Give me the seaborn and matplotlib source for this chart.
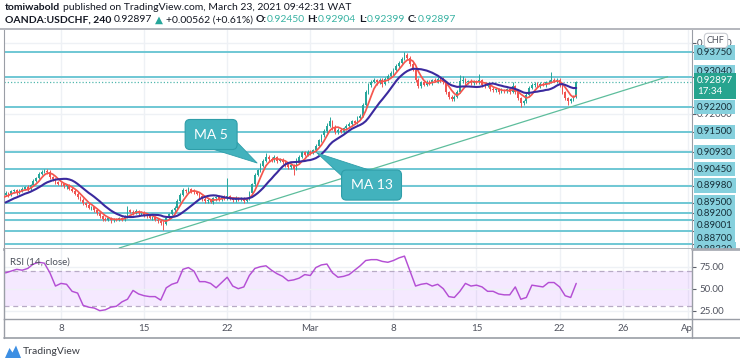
import numpy as np
import pandas as pd
import matplotlib
matplotlib.use("Agg")
import matplotlib.pyplot as plt
import matplotlib.transforms as mtransforms
from matplotlib.lines import Line2D
from matplotlib.patches import Rectangle, Polygon
import seaborn as sns

# ---------------- data (4h bars, bar 0 = Feb 8 00:00) ----------------
first_bar = -32
closes = [
    # warm-up bars (left of the visible window)
    0.8925, 0.8930, 0.8936, 0.8940, 0.8938, 0.8945, 0.8950, 0.8955, 0.8960, 0.8962, 0.8968, 0.8972,
    # -20 .. -1
    0.8978, 0.8972, 0.8982, 0.8985, 0.8978, 0.8984, 0.8990, 0.8994, 0.8988, 0.9000,
    0.9012, 0.9020, 0.9032, 0.9038, 0.9041, 0.9036, 0.9022, 0.9016, 0.9008, 0.9004,
    # 0 .. 69
    0.9002, 0.8996, 0.8999, 0.8990, 0.8984, 0.8975, 0.8966, 0.8958, 0.8950, 0.8944,
    0.8935, 0.8938, 0.8928, 0.8920, 0.8912, 0.8905, 0.8902, 0.8906, 0.8900, 0.8904,
    0.8902, 0.8906, 0.8903, 0.8910, 0.8928, 0.8925, 0.8922, 0.8926, 0.8920, 0.8923,
    0.8915, 0.8912, 0.8908, 0.8910, 0.8902, 0.8898, 0.8893, 0.8890, 0.8908, 0.8918,
    0.8928, 0.8935, 0.8955, 0.8972, 0.8985, 0.8982, 0.8988, 0.8984, 0.8980, 0.8975,
    0.8968, 0.8960, 0.8955, 0.8958, 0.8952, 0.8962, 0.8965, 0.8960, 0.8966, 0.8963,
    0.8968, 0.8962, 0.8958, 0.8964, 0.8960, 0.8962, 0.8955, 0.8960, 0.8978, 0.9002,
    # 70 .. 139
    0.9028, 0.9042, 0.9055, 0.9068, 0.9080, 0.9074, 0.9070, 0.9078, 0.9068, 0.9072,
    0.9064, 0.9058, 0.9050, 0.9056, 0.9046, 0.9062, 0.9080, 0.9092, 0.9086, 0.9094,
    0.9090, 0.9098, 0.9110, 0.9126, 0.9140, 0.9152, 0.9168, 0.9180, 0.9164, 0.9150,
    0.9156, 0.9150, 0.9160, 0.9166, 0.9172, 0.9180, 0.9176, 0.9188, 0.9196, 0.9226,
    0.9262, 0.9284, 0.9292, 0.9296, 0.9290, 0.9298, 0.9286, 0.9300, 0.9308, 0.9316,
    0.9326, 0.9336, 0.9346, 0.9356, 0.9368, 0.9360, 0.9342, 0.9326, 0.9298, 0.9280,
    0.9290, 0.9284, 0.9292, 0.9288, 0.9296, 0.9294, 0.9300, 0.9296, 0.9290, 0.9262,
    # 140 .. 186
    0.9248, 0.9242, 0.9250, 0.9262, 0.9294, 0.9298, 0.9290, 0.9294, 0.9288, 0.9292,
    0.9290, 0.9296, 0.9284, 0.9280, 0.9282, 0.9272, 0.9268, 0.9270, 0.9264, 0.9268,
    0.9265, 0.9270, 0.9264, 0.9280, 0.9262, 0.9246, 0.9232, 0.9236, 0.9254, 0.9274,
    0.9282, 0.9286, 0.9280, 0.9286, 0.9283, 0.9290, 0.9292, 0.9298, 0.9294, 0.9297,
    0.9282, 0.9262, 0.9246, 0.9238, 0.9242, 0.9250, 0.9290,
]
upper_wick_pips = [
    3, 3, 3, 3, 3, 3, 3, 3, 3, 3, 3, 3,
    4, 3, 5, 3, 4, 6, 3, 4, 5, 4,
    5, 3, 6, 4, 5, 4, 6, 3, 4, 3,
    4, 5, 3, 4, 3, 5, 4, 3, 4, 3,
    5, 3, 4, 3, 4, 3, 5, 3, 4, 3,
    3, 4, 3, 5, 14, 4, 3, 5, 3, 4,
    4, 3, 4, 3, 3, 4, 3, 4, 5, 4,
    4, 5, 6, 5, 6, 4, 5, 3, 4, 3,
    4, 3, 5, 4, 3, 5, 4, 6, 3, 5,
    52, 4, 3, 5, 3, 4, 3, 4, 6, 5,
    5, 4, 6, 5, 11, 4, 5, 6, 4, 5,
    4, 3, 5, 4, 3, 13, 6, 5, 4, 5,
    4, 5, 6, 5, 4, 5, 6, 12, 4, 5,
    4, 5, 4, 5, 6, 4, 5, 6, 5, 7,
    6, 5, 4, 6, 4, 5, 4, 6, 5, 5,
    5, 6, 5, 6, 8, 5, 4, 5, 4, 3,
    4, 5, 4, 5, 4, 5, 6, 4, 8, 5,
    4, 5, 4, 6, 18, 10, 5, 4, 5, 4,
    5, 18, 4, 5, 4, 5, 4, 5, 4, 5,
    4, 5, 4, 11, 4, 3, 4, 5, 6, 5,
    5, 4, 5, 4, 5, 4, 6, 20, 4, 5,
    4, 3, 4, 3, 4, 5, 3,
]
lower_wick_pips = [
    3, 3, 3, 3, 3, 3, 3, 3, 3, 3, 3, 3,
    4, 5, 3, 4, 5, 3, 4, 3, 5, 4,
    3, 4, 3, 4, 3, 5, 4, 6, 4, 5,
    5, 4, 6, 5, 4, 3, 5, 4, 6, 5,
    4, 6, 5, 4, 5, 6, 4, 5, 6, 4,
    5, 4, 6, 4, 3, 5, 6, 4, 5, 4,
    5, 4, 5, 6, 5, 6, 5, 17, 4, 3,
    4, 3, 4, 3, 4, 5, 4, 6, 5, 4,
    5, 4, 5, 6, 4, 5, 6, 4, 5, 4,
    5, 4, 6, 5, 4, 5, 6, 4, 3, 4,
    4, 3, 4, 5, 3, 5, 6, 4, 5, 4,
    5, 6, 4, 5, 18, 4, 3, 4, 5, 4,
    4, 3, 4, 3, 4, 3, 4, 5, 8, 6,
    5, 4, 5, 4, 3, 4, 5, 4, 4, 3,
    4, 5, 6, 5, 6, 5, 8, 4, 5, 4,
    4, 3, 4, 3, 4, 5, 6, 5, 6, 5,
    5, 4, 5, 4, 5, 4, 5, 4, 5, 6,
    6, 5, 4, 4, 3, 5, 6, 5, 6, 5,
    4, 5, 6, 5, 4, 6, 5, 4, 6, 5,
    5, 4, 6, 5, 6, 5, 12, 6, 4, 3,
    4, 5, 4, 5, 4, 5, 4, 5, 4, 5,
    5, 6, 5, 13, 6, 4, 3,
]
ma_fast, ma_slow = 5, 13

rsi_first_bar, rsi_step = -20, 2
rsi_values = [
    68, 70, 72, 71, 73, 78, 80, 79, 68, 53,
    56, 55, 47, 45, 31, 29, 28, 25, 26, 29,
    30, 35, 38, 48, 44, 42, 41, 41, 37, 51,
    55, 57, 72, 74, 70, 58, 58, 56, 51, 57,
    63, 53, 50, 52, 65, 73, 75, 76, 71, 67,
    64, 59, 60, 62, 66, 65, 74, 77, 78, 68,
    63, 64, 66, 71, 76, 82, 83, 83, 81, 80,
    82, 85, 87, 70, 53, 55, 56, 53, 55, 50,
    41, 40, 47, 56, 53, 54, 52, 47, 47, 44,
    43, 43, 52, 38, 40, 54, 53, 52, 57, 57,
    52, 42, 40, 56,
]
rsi_band = [30, 70]
rsi_ticks = [25, 50, 75]
rsi_tick_labels = ["25.00", "50.00", "75.00"]

level_prices = [0.9375, 0.9304, 0.9220, 0.9150, 0.9093, 0.9045, 0.8998,
                0.8950, 0.8920, 0.89001, 0.8870, 0.8833]
level_labels = ["0.93750", "0.93040", "0.92200", "0.91500", "0.90930", "0.90450",
                "0.89980", "0.89500", "0.89200", "0.89001", "0.88700", "0.88330"]
scale_prices = [0.9400, 0.9200]
scale_labels = ["0.94000", "0.92000"]
current_price = 0.92897
current_label = "0.92897"
countdown_label = "17:34"
currency_label = "CHF"

trend_bars = [21, 219]
trend_prices = [0.8822, 0.9306]

date_tick_bars = [0, 30, 60, 90, 120, 150, 180, 203, 226.5]
date_tick_labels = ["8", "15", "22", "Mar", "8", "15", "22", "26", "Apr"]
price_grid = [0.88, 0.89, 0.90, 0.91, 0.92, 0.93, 0.94]

callouts = [("MA 5", (54.2, 0.91427), (70.8, 0.90622)),
            ("MA 13", (112.1, 0.89999), (92.4, 0.90905))]

# ---------------- style ----------------
W, H = 740, 364
FONT = ["Lato", "DejaVu Sans"]
sns.set_style("white")
plt.rcParams["font.family"] = FONT
DARK = "#131722"
TEAL_TXT = "#3bb3a4"
GREEN = "#26a69a"
RED = "#ef5350"
LEVEL = "#6fc7d4"
LABEL_BOX = "#86d0dd"
GRID = "#eef1f5"
FRAME = "#9a9ea6"


def fx(x):
    return x / W


def fy(y):
    return 1 - y / H


fig = plt.figure(figsize=(W / 100, H / 100), dpi=100)
fig.patch.set_facecolor("white")

left_px, right_px = 4.3, 692.0
main_top, main_bot = 30.0, 249.0
rsi_bot = 319.3

ax = fig.add_axes([fx(left_px), fy(main_bot), (right_px - left_px) / W, (main_bot - main_top) / H])
ax_rsi = fig.add_axes([fx(left_px), fy(rsi_bot), (right_px - left_px) / W, (rsi_bot - main_bot) / H])
ax_lab = fig.add_axes([fx(right_px), fy(main_bot), (W - right_px) / W, (main_bot - main_top) / H])

xlim = (-20.47, 227.8)
ylim = (0.88192, 0.94380)

# ---------------- candles + MAs ----------------
c = np.array(closes)
bars = np.arange(first_bar, first_bar + len(c))
o = np.concatenate([[c[0]], c[:-1]])
hi = np.maximum(o, c) + np.array(upper_wick_pips) * 1e-4
lo = np.minimum(o, c) - np.array(lower_wick_pips) * 1e-4
df = pd.DataFrame({"bar": bars, "open": o, "close": c, "high": hi, "low": lo})
df["ma_fast"] = df["close"].rolling(ma_fast).mean()
df["ma_slow"] = df["close"].rolling(ma_slow).mean()
cols = np.where(df["close"] >= df["open"], GREEN, RED)

for g in price_grid:
    ax.axhline(g, color=GRID, lw=1, zorder=0)
for t in date_tick_bars:
    ax.axvline(t, color=GRID, lw=1, zorder=0)
    ax_rsi.axvline(t, color=GRID, lw=1, zorder=0)

for p in level_prices:
    ax.axhline(p, color=LEVEL, lw=1.4, zorder=1)
ax.axhline(current_price, color=GREEN, lw=0.9, ls=(0, (1, 1.6)), alpha=0.8, zorder=1)
ax.plot(trend_bars, trend_prices, color="#5dbd9c", lw=0.9, zorder=1.5)

ax.vlines(df["bar"], df["low"], df["high"], colors=cols, lw=0.7, zorder=3)
body_lo = np.minimum(df["open"], df["close"])
body_h = np.maximum(np.abs(df["close"] - df["open"]), 0.00004)
ax.bar(df["bar"], body_h, bottom=body_lo, width=0.62, color=cols, linewidth=0, zorder=3)

sns.lineplot(data=df, x="bar", y="ma_fast", ax=ax, color="#f5564e", lw=1.25, zorder=4)
sns.lineplot(data=df, x="bar", y="ma_slow", ax=ax, color="#3b2a9e", lw=1.5, zorder=5)

for text, center, tip in callouts:
    ax.annotate(text, xy=tip, xytext=center, ha="center", va="center",
                color="white", fontsize=10, zorder=8,
                bbox=dict(boxstyle="round,pad=0.65,rounding_size=0.35", fc="#42b2bd", ec="#2f9ea9", lw=0.8),
                arrowprops=dict(arrowstyle="wedge,tail_width=2.0,shrink_factor=0.5",
                                fc="#42b2bd", ec="#2f9ea9", lw=0.6, patchA=None, shrinkA=0, shrinkB=0))

ax.set_xlim(*xlim)
ax.set_ylim(*ylim)
ax.set_xlabel("")
ax.set_ylabel("")
ax.set_xticks(date_tick_bars)
ax.set_xticklabels([])
ax.yaxis.tick_right()
ax.set_yticks(level_prices + scale_prices)
ax.set_yticklabels([])
ax.tick_params(axis="x", length=0)
ax.tick_params(axis="y", length=3, width=0.8, color="#5d606b", pad=0)
for s in ["top"]:
    ax.spines[s].set_visible(False)
ax.spines["left"].set_color(FRAME)
ax.spines["right"].set_color(FRAME)
ax.spines["bottom"].set_color("#a9adb4")
ax.spines["bottom"].set_linewidth(2.0)

# ---------------- price scale labels ----------------
ax_lab.set_ylim(*ylim)
ax_lab.set_xlim(0, 1)
ax_lab.axis("off")
ax_lab.patch.set_alpha(0)
blend = mtransforms.blended_transform_factory(ax_lab.transAxes, ax_lab.transData)
label_shift_px = [0, -5.5, 0, 0, 0, 0, 0, 0, 0, 5.5, 7, 5]
for p, lab in zip(scale_prices, scale_labels):
    ax_lab.text(0.1, p, lab, transform=blend, fontsize=7, color="#50535e",
                va="center", ha="left", zorder=1, clip_on=True)
for p, lab, sh in zip(level_prices, level_labels, label_shift_px):
    tr = mtransforms.offset_copy(blend, fig=fig, x=0, y=-sh, units="dots")
    ax_lab.text(0.1, p, lab, transform=tr, fontsize=7, color="#17303a",
                va="center", ha="left", zorder=2, clip_on=True,
                bbox=dict(boxstyle="square,pad=0.28", fc=LABEL_BOX, ec="none"))
tr = mtransforms.offset_copy(blend, fig=fig, x=0, y=6.5, units="dots")
ax_lab.text(0.1, current_price, current_label + "\n" + countdown_label, transform=tr,
            fontsize=7, color="white", va="top", ha="left", linespacing=1.35, zorder=3,
            bbox=dict(boxstyle="square,pad=0.3", fc="#27a48f", ec="none"))
ax_lab.text(0.5, 1 - 10.5 / (main_bot - main_top), currency_label, transform=ax_lab.transAxes,
            fontsize=6.5, color="#50535e", ha="center", va="center", zorder=4,
            bbox=dict(boxstyle="round,pad=0.3,rounding_size=0.4", fc="white", ec="#c9ccd2", lw=0.8))

# ---------------- RSI ----------------
rsi_bars = np.arange(rsi_first_bar, rsi_first_bar + rsi_step * len(rsi_values), rsi_step)
ax_rsi.axhspan(rsi_band[0], rsi_band[1], color="#9915ff", alpha=0.09, lw=0, zorder=0)
for t in rsi_ticks:
    ax_rsi.axhline(t, color=GRID, lw=1, zorder=0.5)
for b in rsi_band:
    ax_rsi.axhline(b, color="#b8abc6", lw=0.9, ls=(0, (4, 3)), zorder=1)
sns.lineplot(x=rsi_bars, y=rsi_values, ax=ax_rsi, color="#b44fd4", lw=1.05, zorder=3)
ax_rsi.set_xlim(*xlim)
ax_rsi.set_ylim(15.2, 95.1)
ax_rsi.set_xticks(date_tick_bars)
ax_rsi.set_xticklabels(date_tick_labels)
ax_rsi.yaxis.tick_right()
ax_rsi.set_yticks(rsi_ticks)
ax_rsi.set_yticklabels(rsi_tick_labels)
ax_rsi.tick_params(axis="x", length=0, pad=3.5, labelsize=7, labelcolor="#50535e")
ax_rsi.tick_params(axis="y", length=3, width=0.8, color="#5d606b", pad=2.5, labelsize=7, labelcolor="#50535e")
ax_rsi.set_xlabel("")
ax_rsi.set_ylabel("")
ax_rsi.spines["top"].set_visible(False)
for s in ["left", "right", "bottom"]:
    ax_rsi.spines[s].set_color(FRAME)
    ax_rsi.spines[s].set_linewidth(1.0)
fig.text(fx(10), fy(262), "RSI (14, close)", fontsize=7, color="#4a4f5a", ha="left", va="center")

# ---------------- frame pieces ----------------
fig.patches.append(Rectangle((fx(692.6), fy(337.6)), (W - 692.6) / W, (337.6 - 319.9) / H,
                             transform=fig.transFigure, fc="white", ec="none", zorder=5))
for (x0, y0, x1, y1, lw, col) in [
    (0, 29.3, W, 29.3, 1.4, "#b4b7bd"),
    (left_px, 319.3, left_px, 338.3, 1.0, FRAME),
    (right_px, 319.3, right_px, 338.3, 1.0, FRAME),
    (left_px, 338.3, W, 338.3, 1.2, FRAME),
    (right_px, 319.3, W, 319.3, 1.0, FRAME),
    (right_px, 249.0, W, 249.0, 2.0, "#a9adb4"),
]:
    fig.lines.append(Line2D([fx(x0), fx(x1)], [fy(y0), fy(y1)], transform=fig.transFigure,
                            color=col, lw=lw, zorder=6))

# ---------------- header ----------------
renderer = fig.canvas.get_renderer()


def draw_runs(y_px, parts, x_px=5.0, size=7.5):
    x = x_px
    for text, color, weight, gap in parts:
        x += gap
        t = fig.text(fx(x), fy(y_px), text, color=color, fontsize=size, fontweight=weight,
                     ha="left", va="baseline", family=FONT)
        x += t.get_window_extent(renderer=renderer).width


draw_runs(10.5, [("tomiwabold", DARK, "bold", 0),
                 ("published on TradingView.com, March 23, 2021 09:42:31 WAT", DARK, "normal", 2.6)])
draw_runs(22.5, [("OANDA:USDCHF, 240", DARK, "bold", 0),
                 ("0.92897", DARK, "normal", 2.6),
                 ("\u25b2", GREEN, "normal", 2.6),
                 ("+0.00562 (+0.61%)", DARK, "normal", 2.6),
                 ("O:", DARK, "bold", 2.6), ("0.92450", TEAL_TXT, "normal", 0.3),
                 ("H:", DARK, "bold", 2.6), ("0.92904", TEAL_TXT, "normal", 0.3),
                 ("L:", DARK, "bold", 2.6), ("0.92399", TEAL_TXT, "normal", 0.3),
                 ("C:", DARK, "bold", 2.6), ("0.92897", TEAL_TXT, "normal", 0.3)])

# ---------------- TradingView logo ----------------
fig.patches.append(Polygon([(fx(5), fy(358)), (fx(9.5), fy(348)), (fx(12.5), fy(352.5)),
                            (fx(16), fy(345.5)), (fx(21), fy(358))],
                           closed=True, transform=fig.transFigure, fc="#3d8fe3", ec="none", zorder=6))
fig.text(fx(23), fy(352), "TradingView", fontsize=7.5, color="#3b3e45", ha="left", va="center")

fig.savefig("out.png", dpi=100)
